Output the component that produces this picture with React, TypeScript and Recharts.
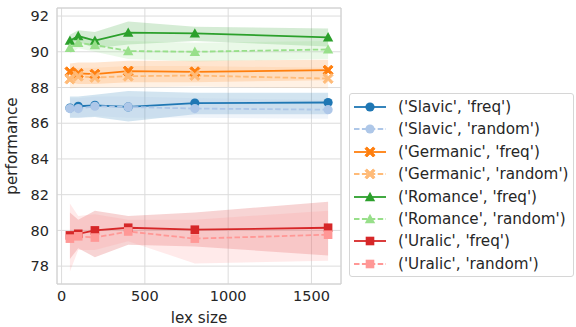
import React from "react"
import {
  ComposedChart, Line, Area,
  XAxis, YAxis, CartesianGrid, ReferenceLine
} from "recharts"

const lexSizes = [50, 100, 200, 400, 800, 1600]

const slavicFreq = [86.85, 86.95, 87.0, 86.91, 87.13, 87.16]
const slavicFreqLo = [86.3, 86.3, 86.35, 86.1, 86.5, 86.5]
const slavicFreqHi = [87.5, 87.5, 87.6, 87.8, 87.7, 87.7]
const slavicRandom = [86.82, 86.82, 86.95, 86.91, 86.82, 86.76]
const slavicRandomLo = [86.3, 86.3, 86.4, 86.3, 86.3, 86.25]
const slavicRandomHi = [87.4, 87.4, 87.5, 87.5, 87.4, 87.3]

const germanicFreq = [88.88, 88.79, 88.75, 88.92, 88.88, 88.97]
const germanicFreqLo = [88.3, 88.2, 88.2, 88.3, 88.3, 88.4]
const germanicFreqHi = [89.35, 89.4, 89.4, 89.5, 89.5, 89.55]
const germanicRandom = [88.47, 88.63, 88.56, 88.63, 88.67, 88.5]
const germanicRandomLo = [87.95, 88.0, 88.0, 88.0, 88.05, 87.95]
const germanicRandomHi = [89.1, 89.1, 89.1, 89.2, 89.2, 89.1]

const romanceFreq = [90.62, 90.88, 90.62, 91.07, 91.03, 90.81]
const romanceFreqLo = [90.3, 90.55, 90.2, 90.4, 90.6, 90.3]
const romanceFreqHi = [90.95, 91.2, 91.1, 91.7, 91.4, 91.3]
const romanceRandom = [90.22, 90.5, 90.38, 90.04, 90.0, 90.13]
const romanceRandomLo = [89.9, 90.2, 90.0, 89.6, 89.45, 89.6]
const romanceRandomHi = [90.6, 90.8, 90.7, 90.6, 90.5, 90.6]

const uralicFreq = [79.72, 79.81, 80.0, 80.15, 80.04, 80.15]
const uralicFreqLo = [78.4, 79.0, 78.5, 79.2, 79.1, 78.6]
const uralicFreqHi = [81.0, 80.6, 81.1, 80.8, 81.0, 81.6]
const uralicRandom = [79.54, 79.67, 79.6, 79.94, 79.54, 79.76]
const uralicRandomLo = [77.7, 78.9, 78.9, 79.4, 78.15, 78.3]
const uralicRandomHi = [81.5, 80.8, 80.9, 80.6, 80.6, 81.1]

const xTicks = [0, 500, 1000, 1500]
const yTicks = [78, 80, 82, 84, 86, 88, 90, 92]

type Series = {
  key: string
  label: string
  color: string
  dashed: boolean
  marker: string
  mean: number[]
  lo: number[]
  hi: number[]
}

const series: Series[] = [
  { key: "sf", label: "('Slavic', 'freq')", color: "#1f77b4", dashed: false, marker: "circle", mean: slavicFreq, lo: slavicFreqLo, hi: slavicFreqHi },
  { key: "sr", label: "('Slavic', 'random')", color: "#aec7e8", dashed: true, marker: "circle", mean: slavicRandom, lo: slavicRandomLo, hi: slavicRandomHi },
  { key: "gf", label: "('Germanic', 'freq')", color: "#ff7f0e", dashed: false, marker: "x", mean: germanicFreq, lo: germanicFreqLo, hi: germanicFreqHi },
  { key: "gr", label: "('Germanic', 'random')", color: "#ffbb78", dashed: true, marker: "x", mean: germanicRandom, lo: germanicRandomLo, hi: germanicRandomHi },
  { key: "rf", label: "('Romance', 'freq')", color: "#2ca02c", dashed: false, marker: "triangle", mean: romanceFreq, lo: romanceFreqLo, hi: romanceFreqHi },
  { key: "rr", label: "('Romance', 'random')", color: "#98df8a", dashed: true, marker: "triangle", mean: romanceRandom, lo: romanceRandomLo, hi: romanceRandomHi },
  { key: "uf", label: "('Uralic', 'freq')", color: "#d62728", dashed: false, marker: "square", mean: uralicFreq, lo: uralicFreqLo, hi: uralicFreqHi },
  { key: "ur", label: "('Uralic', 'random')", color: "#ff9896", dashed: true, marker: "square", mean: uralicRandom, lo: uralicRandomLo, hi: uralicRandomHi },
]

const data = lexSizes.map((x, i) => {
  const row: Record<string, unknown> = { x }
  series.forEach(s => {
    row[s.key] = s.mean[i]
    row[s.key + "_band"] = [s.lo[i], s.hi[i]]
  })
  return row
})

const FONT = "'DejaVu Sans', sans-serif"
const TEXT = "#262626"

function Marker({ cx, cy, marker, color }: { cx: number; cy: number; marker: string; color: string }) {
  if (cx == null || cy == null) return null
  if (marker === "circle") return <circle cx={cx} cy={cy} r={4.6} fill={color} />
  if (marker === "square") return <rect x={cx - 4.3} y={cy - 4.3} width={8.6} height={8.6} fill={color} />
  if (marker === "triangle") {
    const r = 5.2
    return <polygon points={`${cx},${cy - r} ${cx + r},${cy + r * 0.8} ${cx - r},${cy + r * 0.8}`} fill={color} />
  }
  // filled X
  const a = 5, w = 1.8
  const pts = [
    [-a + w, -a], [0, -w], [a - w, -a], [a, -a + w], [w, 0], [a, a - w],
    [a - w, a], [0, w], [-a + w, a], [-a, a - w], [-w, 0], [-a, -a + w],
  ].map(([px, py]) => `${cx + px},${cy + py}`).join(" ")
  return <polygon points={pts} fill={color} stroke={color} strokeWidth={1} strokeLinejoin="round" />
}

function LegendBox() {
  return (
    <div style={{
      position: "absolute", left: 349, top: 93, width: 225, height: 184,
      border: "1px solid #d6d6d6", borderRadius: 3, background: "#fff",
      boxSizing: "border-box", fontFamily: FONT, fontSize: 15.2, color: TEXT,
    }}>
      {series.map((s, i) => (
        <div key={s.key} style={{ position: "absolute", left: 0, top: 2 + i * 22.4, height: 22, display: "flex", alignItems: "center" }}>
          <svg width={48} height={22} style={{ display: "block" }}>
            <line x1={4} x2={36} y1={11} y2={11} stroke={s.color} strokeWidth={1.8} strokeDasharray={s.dashed ? "5.5 2.4" : undefined} />
            <Marker cx={20} cy={11} marker={s.marker} color={s.color} />
          </svg>
          <span style={{ whiteSpace: "nowrap" }}>{s.label}</span>
        </div>
      ))}
    </div>
  )
}

export default function App() {
  return (
    <div style={{ position: "absolute", left: 0, top: 0, width: 576, height: 327, background: "#fff" }}>
      <ComposedChart width={576} height={327} data={data} margin={{ top: 8, right: 235, bottom: 0, left: 0 }}>
        <CartesianGrid stroke="#dcdcdc" strokeWidth={1} />
        <XAxis
          dataKey="x" type="number" domain={[-27.5, 1677.5]} ticks={xTicks} allowDataOverflow
          height={43} tickSize={0} tickMargin={7} axisLine={{ stroke: "#d0d0d0" }}
          tick={{ fill: TEXT, fontSize: 14.5, fontFamily: FONT }}
          label={{ value: "lex size", position: "insideBottom", offset: 4, fill: TEXT, fontSize: 15.2, fontFamily: FONT }}
        />
        <YAxis
          type="number" domain={[77.0, 92.45]} ticks={yTicks} allowDataOverflow
          width={57} tickSize={0} tickMargin={8} axisLine={{ stroke: "#d0d0d0" }}
          tick={{ fill: TEXT, fontSize: 14.5, fontFamily: FONT }}
          label={{ value: "performance", angle: -90, position: "insideLeft", offset: 12, fill: TEXT, fontSize: 15.2, fontFamily: FONT, style: { textAnchor: "middle" } }}
        />
        <ReferenceLine y={92.45} stroke="#d0d0d0" />
        <ReferenceLine x={1677.5} stroke="#d0d0d0" />
        {series.map(s => (
          <Area
            key={s.key + "_band"} type="linear" dataKey={s.key + "_band"}
            stroke="none" fill={s.color} fillOpacity={0.2}
            isAnimationActive={false} activeDot={false} dot={false}
          />
        ))}
        {series.map(s => (
          <Line
            key={s.key} type="linear" dataKey={s.key} stroke={s.color} strokeWidth={1.8}
            strokeDasharray={s.dashed ? "5.5 2.4" : undefined}
            isAnimationActive={false} activeDot={false}
            dot={(p: any) => <Marker key={s.key + "-" + p.index} cx={p.cx} cy={p.cy} marker={s.marker} color={s.color} />}
          />
        ))}
      </ComposedChart>
      <LegendBox />
    </div>
  )
}
